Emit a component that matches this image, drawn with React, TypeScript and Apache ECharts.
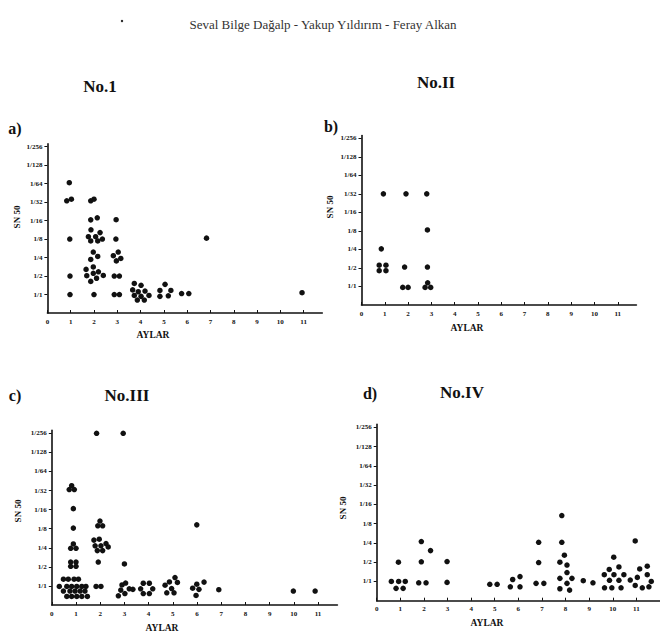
import React, { useEffect, useRef } from 'react';
import * as echarts from 'echarts';

// x ticks: months (AYLAR)
const monthTicks = [0, 1, 2, 3, 4, 5, 6, 7, 8, 9, 10, 11];
// y ticks: titre levels (SN 50), level 1 = 1/1 ... level 9 = 1/256
const titreLevels = [1, 2, 3, 4, 5, 6, 7, 8, 9];
const titreLabels = ['1/1', '1/2', '1/4', '1/8', '1/16', '1/32', '1/64', '1/128', '1/256'];

// Each point: [month (with small visual spread), titre level]
const noI: number[][] = [
  [0.94, 7.05], [0.83, 6.07], [1.03, 6.16], [0.96, 4.0], [0.97, 2.0], [0.97, 1.0],
  [1.86, 6.07], [2.0, 6.16], [1.86, 5.04], [2.14, 5.15],
  [1.87, 4.5], [2.26, 4.35], [1.76, 4.13], [2.07, 4.13], [1.86, 3.9], [2.16, 3.9], [2.36, 4.0],
  [1.97, 3.3], [2.16, 3.06], [1.86, 2.9],
  [1.66, 2.36], [1.97, 2.49], [2.19, 2.23], [1.69, 2.02], [1.97, 2.15], [2.4, 2.03], [1.86, 1.71], [2.11, 1.88],
  [2.0, 1.0],
  [2.95, 5.05], [2.94, 4.0], [3.04, 3.3], [2.83, 3.1], [3.15, 2.95], [2.96, 2.82],
  [2.87, 2.0], [3.09, 2.0], [2.87, 1.0], [3.09, 1.0],
  [3.73, 1.6], [4.02, 1.5], [3.66, 1.25], [3.9, 1.15], [4.19, 1.19], [4.36, 0.95], [3.73, 0.95], [4.02, 0.9], [3.86, 0.7], [4.16, 0.7],
  [5.05, 1.55], [4.83, 1.22], [5.3, 1.22], [4.83, 0.9], [5.19, 0.93],
  [5.76, 1.05], [6.07, 1.05],
  [6.83, 4.05],
  [10.93, 1.1],
];

const noII: number[][] = [
  [0.94, 6.0], [1.91, 6.0], [2.8, 6.0], [2.83, 4.05], [0.85, 3.03],
  [0.76, 2.15], [1.05, 2.15], [0.76, 1.85], [1.05, 1.85],
  [1.85, 2.05], [2.83, 2.05],
  [1.77, 0.95], [2.0, 0.95],
  [2.84, 1.2], [2.73, 0.95], [2.97, 0.95],
];

const noIII: number[][] = [
  [1.85, 9.0], [2.95, 9.0],
  [0.82, 6.25], [0.72, 6.05], [0.93, 6.05],
  [0.89, 5.05], [0.89, 4.03],
  [0.89, 3.2], [0.78, 2.97], [1.0, 2.97],
  [0.78, 2.25], [1.0, 2.25], [0.78, 2.03], [1.0, 2.03],
  [0.48, 1.35], [0.68, 1.35], [0.92, 1.35], [1.1, 1.35],
  [0.31, 0.97], [0.62, 0.97], [0.82, 0.97], [1.03, 0.97], [1.24, 0.97], [1.41, 0.97],
  [0.48, 0.73], [0.75, 0.73], [0.96, 0.73], [1.17, 0.73], [1.37, 0.73],
  [0.62, 0.45], [0.82, 0.45], [1.03, 0.45], [1.24, 0.45], [1.47, 0.45],
  [1.99, 4.4], [1.9, 4.15], [2.1, 4.15],
  [1.74, 3.4], [1.96, 3.45], [2.24, 3.22], [1.79, 3.1], [2.03, 3.1], [2.33, 3.04], [1.88, 2.85], [2.1, 2.85],
  [1.92, 2.25], [1.83, 0.97], [2.03, 0.97],
  [3.0, 2.15], [2.75, 0.48], [2.9, 1.05], [3.05, 1.15], [2.85, 0.78], [3.02, 0.6], [3.2, 0.85], [3.35, 0.82],
  [3.78, 1.14], [4.03, 1.14], [3.67, 0.85], [4.17, 0.85], [3.78, 0.6], [4.03, 0.6],
  [5.09, 1.44], [4.86, 1.21], [5.19, 1.18], [4.68, 1.04], [4.95, 0.86], [4.75, 0.64], [5.05, 0.64],
  [5.99, 4.2], [5.99, 1.09], [6.29, 1.2], [5.82, 0.88], [6.08, 0.82], [5.96, 0.5],
  [6.9, 0.8], [9.98, 0.73], [10.88, 0.73],
];

const noIV: number[][] = [
  [0.62, 1.0], [0.93, 1.0], [1.21, 1.0], [0.82, 0.64], [1.12, 0.64], [0.92, 2.0],
  [1.89, 3.07], [1.89, 2.02], [2.28, 2.6], [1.78, 0.93], [2.09, 0.93],
  [2.98, 2.03], [2.98, 0.95],
  [4.79, 0.85], [5.1, 0.85],
  [5.76, 1.1], [6.07, 1.25], [5.66, 0.72], [6.07, 0.72],
  [6.86, 3.03], [6.86, 1.98], [6.75, 0.9], [7.08, 0.9],
  [7.84, 4.42], [7.84, 3.03], [7.95, 2.36], [7.76, 2.0], [8.06, 1.85], [8.06, 1.46], [7.76, 1.16], [8.27, 1.16], [8.06, 0.9], [7.76, 0.62], [8.17, 0.55],
  [8.75, 1.04], [9.16, 0.93],
  [10.04, 2.26], [9.85, 1.62], [10.26, 1.75], [9.64, 1.35], [10.05, 1.35], [10.47, 1.35], [9.86, 1.06], [10.26, 1.06], [9.65, 0.67], [9.96, 0.67], [10.35, 0.67],
  [10.95, 3.1], [10.74, 1.07], [10.95, 0.79], [11.04, 1.21], [11.14, 1.65], [11.25, 0.67], [11.46, 1.79], [11.46, 1.35], [11.53, 0.72], [11.63, 1.0],
];

const SERIF = '"Liberation Serif", "DejaVu Serif", serif';
const INK = '#111';

const panels = [
  { name: 'No.1', data: noI, left: 47.4, top: 143.9, width: 274.9, height: 169.1, xMax: 11.8 },
  { name: 'No.II', data: noII, left: 361.5, top: 135.5, width: 274.9, height: 169.5, xMax: 11.8 },
  { name: 'No.III', data: noIII, left: 51.8, top: 430.4, width: 285.6, height: 174.6, xMax: 11.8 },
  { name: 'No.IV', data: noIV, left: 376.7, top: 424.4, width: 291.6, height: 176.3, xMax: 12 },
];

function txt(text: string, x: number, y: number, size: number, opts: any = {}) {
  return {
    type: 'text',
    x,
    y,
    rotation: opts.rotation || 0,
    style: {
      text,
      fill: opts.fill || INK,
      font: `${opts.weight || 'bold'} ${size}px ${SERIF}`,
      align: 'center',
      verticalAlign: 'middle',
      textAlign: 'center',
      textVerticalAlign: 'middle',
    },
  };
}

export default function App() {
  const ref = useRef<HTMLDivElement>(null);
  useEffect(() => {
    if (!ref.current) return;
    const chart = echarts.init(ref.current, null, { renderer: 'svg' });
    const axisLine = { show: true, lineStyle: { color: INK, width: 1.6 } };
    const option: any = {
      animation: false,
      backgroundColor: '#ffffff',
      grid: panels.map((p) => ({ left: p.left, top: p.top, width: p.width, height: p.height, containLabel: false })),
      xAxis: panels.map((p, i) => ({
        type: 'value',
        gridIndex: i,
        min: 0,
        max: p.xMax,
        axisLine,
        splitLine: { show: false },
        axisTick: { show: true, length: 3, inside: true, customValues: monthTicks, lineStyle: { color: INK, width: 1 } },
        axisLabel: {
          customValues: monthTicks,
          formatter: (v: number) => String(v),
          fontSize: 7,
          fontWeight: 'bold',
          fontFamily: SERIF,
          color: INK,
          margin: 5,
        },
      })),
      yAxis: panels.map((p, i) => ({
        type: 'value',
        gridIndex: i,
        min: 0,
        max: 9.15,
        axisLine,
        splitLine: { show: false },
        axisTick: { show: true, length: 3, customValues: titreLevels, lineStyle: { color: INK, width: 1 } },
        axisLabel: {
          customValues: titreLevels,
          formatter: (v: number) => titreLabels[Math.round(v) - 1] || '',
          fontSize: 7,
          fontWeight: 'bold',
          fontFamily: SERIF,
          color: INK,
          margin: 5,
        },
      })),
      series: panels.map((p, i) => ({
        type: 'scatter',
        name: p.name,
        xAxisIndex: i,
        yAxisIndex: i,
        data: p.data,
        symbol: 'circle',
        symbolSize: 5.5,
        itemStyle: { color: INK, opacity: 1 },
        clip: false,
      })),
      graphic: [
        txt('Seval Bilge Dağalp - Yakup Yıldırım - Feray Alkan', 323, 24, 13, { weight: 'normal', fill: '#333' }),
        { type: 'circle', shape: { cx: 122, cy: 21, r: 1.2 }, style: { fill: '#222' } },
        txt('No.1', 100, 86, 17),
        txt('No.II', 436, 82, 17),
        txt('No.III', 127, 395, 17),
        txt('No.IV', 462, 392, 17),
        txt('a)', 15, 128, 16),
        txt('b)', 331, 126, 16),
        txt('c)', 15, 395, 16),
        txt('d)', 370, 393, 16),
        txt('SN 50', 17, 217, 9, { rotation: Math.PI / 2 }),
        txt('SN 50', 330, 207, 9, { rotation: Math.PI / 2 }),
        txt('SN 50', 18, 511, 9, { rotation: Math.PI / 2 }),
        txt('SN 50', 343, 508, 9, { rotation: Math.PI / 2 }),
        txt('AYLAR', 153, 335, 9.5),
        txt('AYLAR', 467, 328, 9.5),
        txt('AYLAR', 162, 628, 9.5),
        txt('AYLAR', 487, 623, 9.5),
      ],
    };
    chart.setOption(option);
    return () => chart.dispose();
  }, []);
  return (
    <div
      ref={ref}
      style={{ position: 'absolute', left: 0, top: 0, width: 660, height: 641, background: '#fff' }}
    />
  );
}
